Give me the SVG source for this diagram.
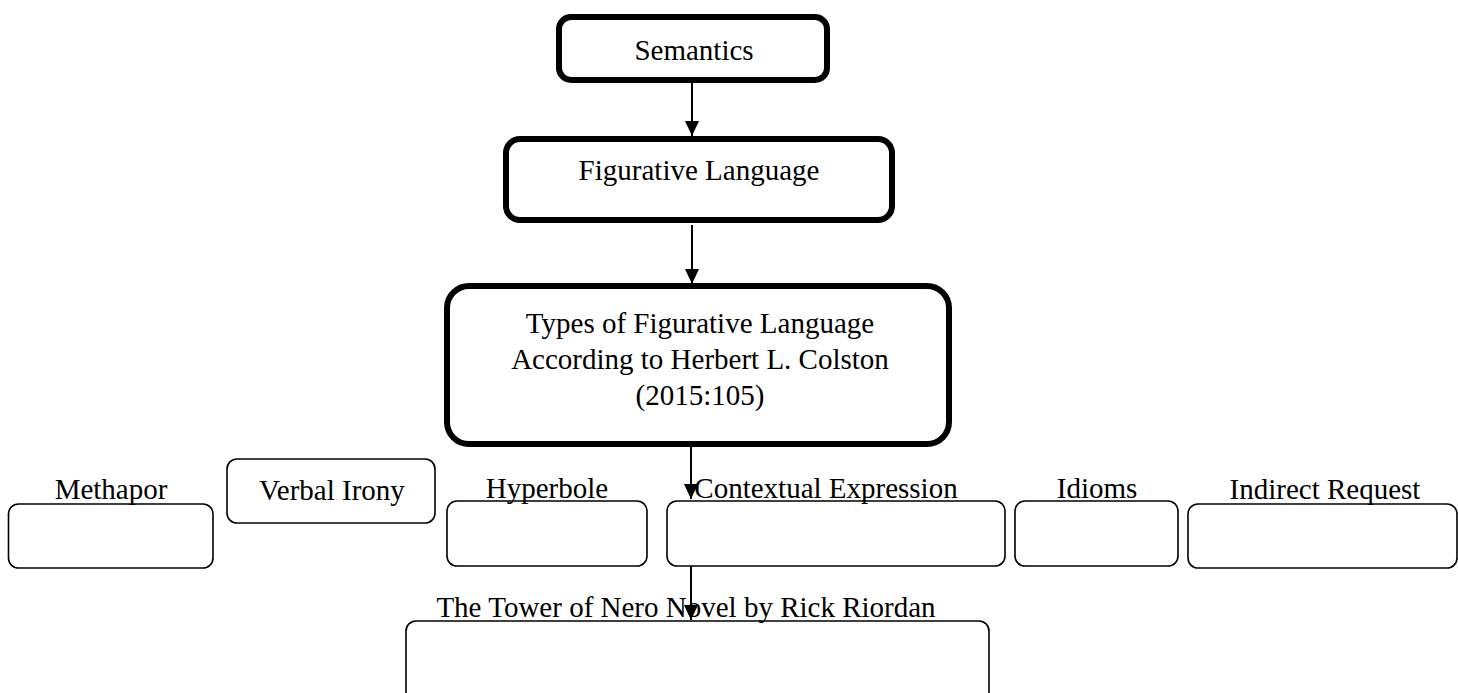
<svg xmlns="http://www.w3.org/2000/svg" width="1458" height="693" viewBox="0 0 1458 693">
<style>
.thick{fill:#fff;stroke:#000;stroke-width:6}
.thin{fill:#fff;stroke:#000;stroke-width:1.6}
.t{font-family:"Liberation Serif","Times New Roman",serif;font-size:29px;fill:#000;text-anchor:middle}
.conn{stroke:#000;stroke-width:2;fill:none}
</style>
<defs>
<marker id="ah" markerUnits="userSpaceOnUse" markerWidth="15" markerHeight="14" viewBox="0 0 15 14" refX="15" refY="7" orient="auto">
<path d="M0,0 L15,7 L0,14 z" fill="#000"/>
</marker>
</defs>
<rect width="1458" height="693" fill="#fff"/>
<g id="semantics">
<rect class="thick" x="559" y="17" width="268" height="63" rx="12"/>
<text class="t" x="694" y="60">Semantics</text>
</g>
<g id="figurative">
<rect class="thick" x="506" y="139" width="386" height="81" rx="14"/>
<text class="t" x="699" y="180">Figurative Language</text>
</g>
<g id="types">
<rect class="thick" x="447" y="286" width="502" height="158" rx="22"/>
<text class="t" x="700" y="333">Types of Figurative Language</text>
<text class="t" x="700" y="369">According to Herbert L. Colston</text>
<text class="t" x="700" y="405">(2015:105)</text>
</g>
<g id="methapor">
<rect class="thin" x="8.5" y="504" width="204.5" height="64" rx="10"/>
<text class="t" x="111" y="499">Methapor</text>
</g>
<g id="verbal-irony">
<rect class="thin" x="227" y="459" width="208" height="64" rx="10"/>
<text class="t" x="332" y="500">Verbal Irony</text>
</g>
<g id="hyperbole">
<rect class="thin" x="447" y="501" width="200" height="65" rx="10"/>
<text class="t" x="547" y="498">Hyperbole</text>
</g>
<g id="contextual">
<rect class="thin" x="667" y="501" width="338" height="65" rx="10"/>
<text class="t" x="826" y="498">Contextual Expression</text>
</g>
<g id="idioms">
<rect class="thin" x="1015" y="501" width="163" height="65" rx="10"/>
<text class="t" x="1097" y="498">Idioms</text>
</g>
<g id="indirect">
<rect class="thin" x="1188" y="504" width="269" height="64" rx="10"/>
<text class="t" x="1325" y="499">Indirect Request</text>
</g>
<g id="tower">
<rect class="thin" x="406" y="621" width="583" height="84" rx="10"/>
<text class="t" x="686" y="617">The Tower of Nero Novel by Rick Riordan</text>
</g>
<g id="connectors">
<line class="conn" x1="692" y1="83" x2="692" y2="136" marker-end="url(#ah)"/>
<line class="conn" x1="692" y1="225" x2="692" y2="284" marker-end="url(#ah)"/>
<line class="conn" x1="691" y1="447" x2="691" y2="499" marker-end="url(#ah)"/>
<line class="conn" x1="691" y1="566" x2="691" y2="620" marker-end="url(#ah)"/>
</g>
</svg>
